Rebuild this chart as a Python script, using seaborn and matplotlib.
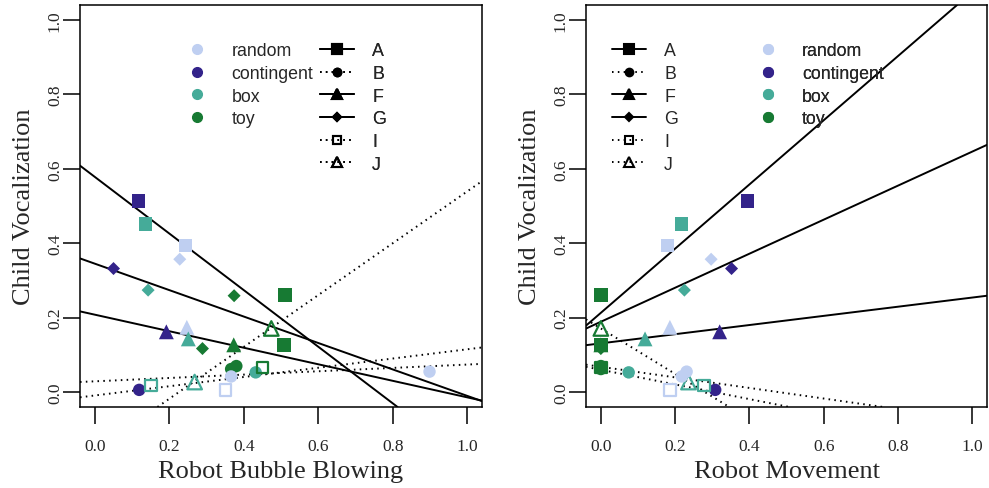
import pandas as pd
import seaborn as sns
import matplotlib.pyplot as plt
from matplotlib.lines import Line2D

# Valores
robo = ["A", "A", "A", "A", "A",
        "G", "G", "G", "G", "G",
        "F", "F", "F", "F",
        "J", "J",
        "B", "B", "B", "B", "B", "B",
        "I", "I", "I"]
condicao = ["contingent", "box", "random", "toy", "toy",
            "random", "contingent", "box", "toy", "toy",
            "contingent", "random", "box", "toy",
            "toy", "box",
            "toy", "toy", "random", "random", "box", "contingent",
            "toy", "box", "random"]
bolhas = [0.117, 0.136, 0.244, 0.511, 0.508,
          0.228, 0.050, 0.143, 0.374, 0.289,
          0.192, 0.247, 0.251, 0.373,
          0.474, 0.268,
          0.366, 0.380, 0.366, 0.899, 0.432, 0.119,
          0.450, 0.151, 0.351]
movimento = [0.395, 0.217, 0.180, 0.0, 0.0,
             0.297, 0.352, 0.225, 0.0, 0.0,
             0.320, 0.186, 0.119, 0.0,
             0.0, 0.236,
             0.0, 0.0, 0.218, 0.231, 0.075, 0.308,
             0.0, 0.277, 0.187]
vocalizacao = [0.513, 0.451, 0.394, 0.261, 0.126,
               0.357, 0.332, 0.274, 0.259, 0.117,
               0.162, 0.174, 0.143, 0.127,
               0.171, 0.027,
               0.062, 0.070, 0.042, 0.055, 0.053, 0.006,
               0.066, 0.018, 0.005]

# Retas de regressão (intercepto, inclinação) por robô
robos = ["A", "B", "F", "G", "I", "J"]
intercepto_bolhas = [0.578, 0.029, 0.208, 0.345, -0.009, -0.157]
inclinacao_bolhas = [-0.76, 0.045, -0.222, -0.355, 0.124, 0.696]
intercepto_mov = [0.213, 0.068, 0.131, 0.189, 0.060, 0.171]
inclinacao_mov = [0.862, -0.142, 0.123, 0.457, -0.197, -0.610]

condicoes = ["random", "contingent", "box", "toy"]
cores = {"random": "#bfcff1", "contingent": "#33238a",
         "box": "#45ab99", "toy": "#177a33"}

marcador = {"A": "s", "B": "o", "F": "^", "G": "D", "I": "s", "J": "^"}
tamanho = {"A": 95, "B": 80, "F": 115, "G": 44, "I": 70, "J": 110}
aberto = {"A": False, "B": False, "F": False, "G": False, "I": True, "J": True}
estilo = {"A": "-", "B": (0, (0.8, 2.2)), "F": "-", "G": "-",
          "I": (0, (0.8, 2.2)), "J": (0, (0.8, 2.2))}
ms_legenda = {"A": 6.5, "B": 5.5, "F": 7, "G": 4.5, "I": 6, "J": 7.5}

dados = pd.DataFrame({"robo": robo, "condicao": condicao, "bolhas": bolhas,
                      "movimento": movimento, "vocalizacao": vocalizacao})

sns.set_theme(style="ticks")
plt.rcParams["font.family"] = ["Liberation Serif", "DejaVu Serif"]
fonte_legenda = {"family": "Liberation Sans", "size": 12.8}


def desenhar_pontos(ax, coluna):
    for r in ["A", "G", "F", "J", "B", "I"]:
        sub = dados[dados.robo == r]
        sns.scatterplot(data=sub, x=coluna, y="vocalizacao", hue="condicao",
                        hue_order=condicoes, palette=cores, marker=marcador[r],
                        s=tamanho[r], linewidth=1.6 if aberto[r] else 0,
                        legend=False, ax=ax, zorder=3)
        if aberto[r]:
            # marcadores abertos: contorno na cor da condição
            col = ax.collections[-1]
            col.set_edgecolors(col.get_facecolors())
            col.set_facecolors("none")


def desenhar_retas(ax, interceptos, inclinacoes):
    for r, b, m in zip(robos, interceptos, inclinacoes):
        ax.axline((0, b), slope=m, color="black", lw=1.4, ls=estilo[r], zorder=2)


def legenda_condicao(ax, x0, y0):
    handles = [Line2D([], [], ls="none", marker="o", ms=7, mfc=cores[c], mec=cores[c])
               for c in condicoes]
    leg = ax.legend(handles, condicoes, loc="upper left", bbox_to_anchor=(x0, y0),
                    frameon=False, borderpad=0, borderaxespad=0, handlelength=1.0,
                    handletextpad=1.43, labelspacing=0.32, prop=fonte_legenda)
    ax.add_artist(leg)


def legenda_robo(ax, x0, y0):
    handles = [Line2D([], [], color="black", lw=1.4, ls=estilo[r], marker=marcador[r],
                      ms=ms_legenda[r], mfc="none" if aberto[r] else "black",
                      mec="black", mew=1.5) for r in robos]
    leg = ax.legend(handles, robos, loc="upper left", bbox_to_anchor=(x0, y0),
                    frameon=False, borderpad=0, borderaxespad=0, handlelength=1.95,
                    handletextpad=1.0, labelspacing=0.32, prop=fonte_legenda)
    ax.add_artist(leg)


def formatar(ax, rotulo_x):
    ax.set_xlim(-0.04, 1.04)
    ax.set_ylim(-0.04, 1.04)
    ticks = [0.0, 0.2, 0.4, 0.6, 0.8, 1.0]
    ax.set_xticks(ticks)
    ax.set_yticks(ticks)
    ax.set_xticklabels([f"{t:.1f}" for t in ticks])
    ax.set_yticklabels([f"{t:.1f}" for t in ticks], rotation=90, va="center")
    ax.tick_params(length=12, width=1.1, labelsize=12.5, color="black")
    ax.tick_params(axis="x", pad=10.5)
    ax.tick_params(axis="y", pad=0.3)
    for s in ax.spines.values():
        s.set_visible(True)
        s.set_linewidth(1.1)
        s.set_color("black")
    ax.set_xlabel(rotulo_x, fontsize=19, labelpad=4.3)
    ax.set_ylabel("Child Vocalization", fontsize=19, labelpad=8.9)
    ax.set_facecolor("white")


fig = plt.figure(figsize=(9.89, 4.89), dpi=100)
ax1 = fig.add_axes([80 / 989, 81 / 489, 402 / 989, 402 / 489])
ax2 = fig.add_axes([586 / 989, 81 / 489, 401 / 989, 402 / 489])

# Painel esquerdo: bolhas
desenhar_retas(ax1, intercepto_bolhas, inclinacao_bolhas)
desenhar_pontos(ax1, "bolhas")
formatar(ax1, "Robot Bubble Blowing")
legenda_condicao(ax1, 0.2697, 0.9076)
legenda_robo(ax1, 0.596, 0.9076)

# Painel direito: movimento
desenhar_retas(ax2, intercepto_mov, inclinacao_mov)
desenhar_pontos(ax2, "movimento")
formatar(ax2, "Robot Movement")
legenda_robo(ax2, 0.064, 0.9076)
legenda_condicao(ax2, 0.431, 0.9076)

fig.savefig("out.png", dpi=100, facecolor="white")
